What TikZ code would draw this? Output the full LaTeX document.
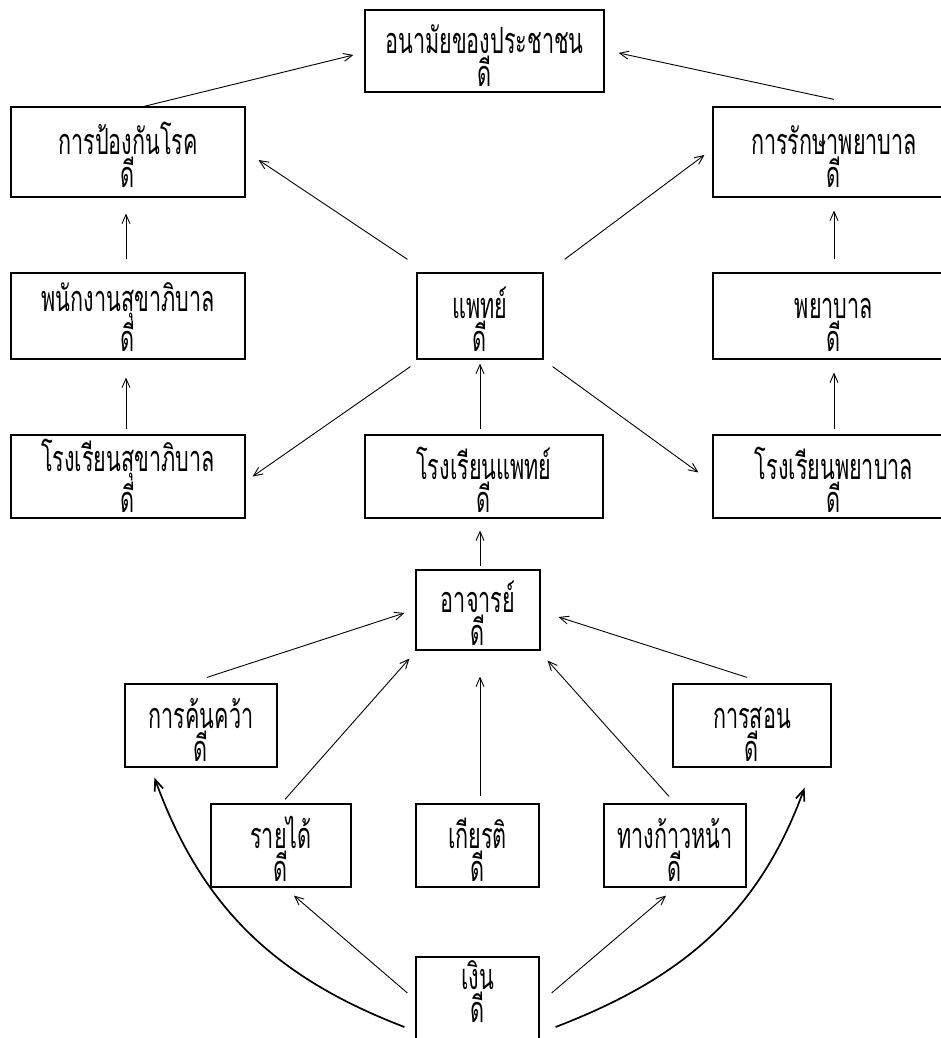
\documentclass[tikz,border=0pt]{standalone}
\usepackage{fontspec}
\newfontfamily\thai[Script=Thai,FakeStretch=0.6]{Loma}
\usetikzlibrary{arrows.meta,calc}
\begin{document}
\begin{tikzpicture}[x=1pt,y=1pt,
  box/.style={draw,line width=1.2pt,inner sep=0pt,align=center,
    text height=72pt,text depth=0pt,
    font=\thai\fontsize{36}{33}\selectfont},
  arr/.style={-{Straight Barb[length=9pt,width=8pt]},line width=0.9pt},
  bigarr/.style={-{Straight Barb[length=11pt,width=9pt]},line width=1.7pt}]
\useasboundingbox (0,0) rectangle (941,1038);
% nodes
\node[box,minimum width=239pt,minimum height=82pt] (top) at (484.5,987) {อนามัยของประชาชน\\ดี};
\node[box,minimum width=234pt,minimum height=90pt] (prev) at (128,886) {การป้องกันโรค\\ดี};
\node[box,minimum width=242pt,minimum height=90pt] (treat) at (834,886) {การรักษาพยาบาล\\ดี};
\node[box,minimum width=234pt,minimum height=86pt] (san) at (128,722) {พนักงานสุขาภิบาล\\ดี};
\node[box,minimum width=126pt,minimum height=86pt] (doc) at (480,722) {แพทย์\\ดี};
\node[box,minimum width=242pt,minimum height=86pt] (nurse) at (834,722) {พยาบาล\\ดี};
\node[box,minimum width=234pt,minimum height=83pt] (ssch) at (128,561.5) {โรงเรียนสุขาภิบาล\\ดี};
\node[box,minimum width=238pt,minimum height=83pt] (msch) at (484,561.5) {โรงเรียนแพทย์\\ดี};
\node[box,minimum width=242pt,minimum height=83pt] (nsch) at (834,561.5) {โรงเรียนพยาบาล\\ดี};
\node[box,minimum width=124pt,minimum height=80pt] (prof) at (478,428) {อาจารย์\\ดี};
\node[box,minimum width=152pt,minimum height=83pt] (res) at (201,312.5) {การค้นคว้า\\ดี};
\node[box,minimum width=158pt,minimum height=83pt] (teach) at (752,312.5) {การสอน\\ดี};
\node[box,minimum width=140pt,minimum height=83pt] (inc) at (281,192.5) {รายได้\\ดี};
\node[box,minimum width=123pt,minimum height=83pt] (hon) at (477.5,192.5) {เกียรติ\\ดี};
\node[box,minimum width=142pt,minimum height=83pt] (adv) at (675,192.5) {ทางก้าวหน้า\\ดี};
\node[box,minimum width=123pt,minimum height=88pt,text height=66pt,text depth=22pt] (money) at (477.5,37) {เงิน\\ดี};
% connectors
\draw[arr] ([xshift=16pt]prev.north) -- ([xshift=-11pt,yshift=-4pt]top.west);
\draw[arr] ([yshift=7pt]treat.north) -- ([xshift=14pt,yshift=-2pt]top.east);
\draw[arr] ([xshift=-9pt,yshift=13pt]doc.north west) -- ([xshift=13pt,yshift=-8pt]prev.east);
\draw[arr] ([xshift=21pt,yshift=13pt]doc.north east) -- ([xshift=-8pt,yshift=-3pt]treat.west);
\draw[arr] ([xshift=-2pt,yshift=13pt]san.north) -- ([xshift=-2pt,yshift=-16pt]prev.south);
\draw[arr] ([yshift=13pt]nurse.north) -- ([yshift=-13pt]treat.south);
\draw[arr] ([xshift=-2pt,yshift=5pt]ssch.north) -- ([xshift=-2pt,yshift=-18pt]san.south);
\draw[arr] ([xshift=-6pt,yshift=-7pt]doc.south west) -- ([xshift=7pt]ssch.east);
\draw[arr] ($(msch.north -| doc.south)+(0,5)$) -- ([yshift=-4pt]doc.south);
\draw[arr] ([xshift=9pt,yshift=-7pt]doc.south east) -- ([xshift=-14pt,yshift=4pt]nsch.west);
\draw[arr] ([yshift=5pt]nsch.north) -- ([yshift=-13pt]nurse.south);
\draw[arr] ([xshift=2pt,yshift=3pt]prof.north) -- ($(prof.north |- msch.south)+(2,-12)$);
\draw[arr] ([xshift=6pt,yshift=6pt]res.north) -- ([xshift=-11pt,yshift=-3pt]prof.west);
\draw[arr] ([xshift=-5pt,yshift=6pt]teach.north) -- ([xshift=18pt,yshift=-7pt]prof.east);
\draw[arr] ([xshift=4pt,yshift=4pt]inc.north) -- ([xshift=-6pt,yshift=-8pt]prof.south west);
\draw[arr] ([xshift=2.5pt,yshift=7pt]hon.north) -- ($(prof.south)+(2,-26)$);
\draw[arr] ([xshift=-6pt,yshift=7pt]adv.north) -- ([xshift=7pt,yshift=-10pt]prof.south east);
\draw[arr] ([xshift=-8pt,yshift=8pt]money.west) -- ([xshift=13pt,yshift=-8pt]inc.south);
\draw[arr] ([xshift=12pt,yshift=8pt]money.east) -- ([xshift=-9pt,yshift=-8pt]adv.south);
\draw[bigarr] ([xshift=-11pt,yshift=-26pt]money.west) to[out=159,in=-70] ([xshift=30pt,yshift=-10pt]res.south west);
\draw[bigarr] ([xshift=16pt,yshift=-26pt]money.east) to[out=21,in=-110] ([xshift=-27pt,yshift=-20pt]teach.south east);
\end{tikzpicture}
\end{document}
